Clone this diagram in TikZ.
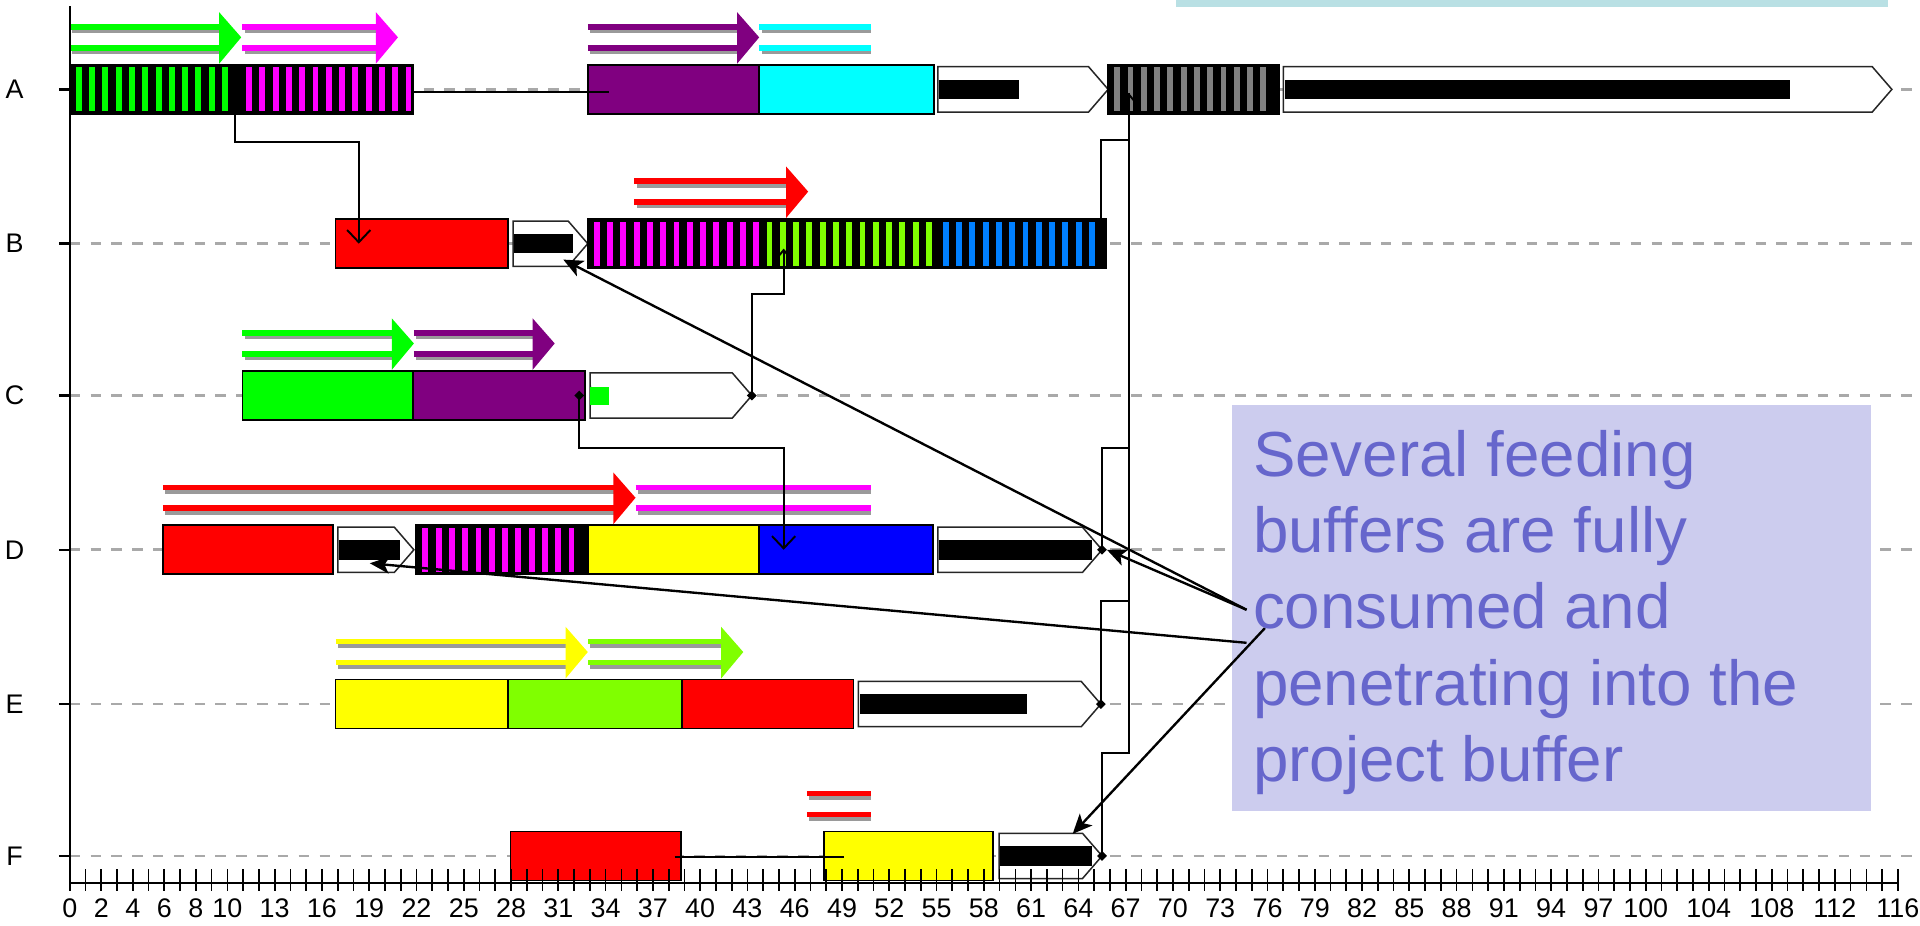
\documentclass[tikz,border=0pt]{standalone}
\usepackage{fontspec}
\setmainfont{Liberation Sans}
\usetikzlibrary{arrows.meta}

\definecolor{cGreen}{HTML}{00FF00}
\definecolor{cMagenta}{HTML}{FF00FF}
\definecolor{cPurple}{HTML}{800080}
\definecolor{cCyan}{HTML}{00FFFF}
\definecolor{cRed}{HTML}{FF0000}
\definecolor{cYellow}{HTML}{FFFF00}
\definecolor{cBlue}{HTML}{0000FF}
\definecolor{cLime}{HTML}{80FF00}
\definecolor{cSky}{HTML}{0080FF}
\definecolor{cGrey}{HTML}{808080}
\definecolor{gridgrey}{HTML}{A9A9A9}
\definecolor{shadowgrey}{HTML}{9A9A9A}
\definecolor{noteFill}{HTML}{CCCCEE}
\definecolor{noteText}{HTML}{6666CC}
\definecolor{tealFill}{HTML}{B9E0E4}

\tikzset{
  taskbox/.style={draw=black, line width=0.8pt, rectangle, inner sep=0pt, outer sep=0pt, minimum height=0.8cm},
  bufline/.style={draw=black!85, line width=0.7pt, fill=white},
  link/.style={draw=black, line width=0.9pt},
  openhead/.style={-{Straight Barb[length=0.2cm,width=0.38cm,line width=0.9pt]}},
  smallhead/.style={-{Straight Barb[length=0.12cm,width=0.2cm]}},
  callout/.style={draw=black, line width=1.1pt, -{Stealth[length=0.32cm,width=0.28cm,inset=0.08cm]}},
  rowline/.style={draw=gridgrey, line width=0.045cm, dash pattern=on 0.17cm off 0.17cm},
  axisline/.style={draw=black, line width=0.04cm},
  tickline/.style={draw=black, line width=0.8pt},
  ticklabel/.style={font=\fontsize{12.5pt}{12.5pt}\selectfont, inner sep=0pt},
  rowlabel/.style={font=\fontsize{12.5pt}{12.5pt}\selectfont, inner sep=0pt},
  notebox/.style={fill=noteFill, inner sep=0pt, minimum width=10.44cm, minimum height=6.64cm, anchor=north west},
  notetext/.style={text=noteText, font=\fontsize{29.6pt}{35pt}\selectfont, inner sep=0pt, anchor=base west},
}

% plain task bar: name, left, right, row, fill
\newcommand{\tsk}[5]{%
  \node[taskbox, fill=#5, minimum width={(#3-#2)*0.02cm}] (#1) at ({(#2+#3)/2},#4) {};}

% hatched task bar: name, left, right, row, stripe colour
\newcommand{\stsk}[5]{%
  \node[taskbox, fill=black, minimum width={(#3-#2)*0.02cm}] (#1) at ({(#2+#3)/2},#4) {};
  \pgfmathtruncatemacro{\nstripes}{(#3-#2-10.5)/10.85}
  \foreach \k in {0,...,\nstripes}{
    \fill[#5] ({#2+5+\k*10.85},{#4-18}) rectangle ++(4.8,36);
  }}

% buffer: name (tip), left, tip, row, end of consumed part
\newcommand{\buf}[5]{%
  \draw[bufline] (#2,{#4-18.5}) -- ({#3-16},{#4-18.5}) -- (#3,#4) -- ({#3-16},{#4+18.5}) -- (#2,{#4+18.5}) -- cycle;
  \coordinate (#1) at (#3,#4);
  \fill[black] ({#2+1},{#4-8}) rectangle (#5,{#4+8});}

% double arrow above a row: left, tip, row, colour
\newcommand{\dblarrow}[4]{%
  \foreach \off in {-51,-34}{
    \draw[shadowgrey, line width=0.09cm] ({#1+2},{#3+(\off)+3}) -- ({#2-17},{#3+(\off)+3});
    \draw[#4, line width=0.09cm] (#1,{#3+(\off)}) -- ({#2-16},{#3+(\off)});
  }
  \fill[#4] ({#2-18},{#3-63}) -- (#2,{#3-42.5}) -- ({#2-18},{#3-21}) -- cycle;}

% double lines without head: left, right, row, colour
\newcommand{\dbllines}[4]{%
  \foreach \off in {-51,-34}{
    \draw[shadowgrey, line width=0.09cm] ({#1+2},{#3+(\off)+3}) -- (#2,{#3+(\off)+3});
    \draw[#4, line width=0.09cm] (#1,{#3+(\off)}) -- (#2,{#3+(\off)});
  }}

% small diamond marking a link end
\newcommand{\knot}[1]{\fill[black] (#1) ++(0,-4) -- ++(4,4) -- ++(-4,4) -- ++(-4,-4) -- cycle;}

\begin{document}
\begin{tikzpicture}[x=0.02cm, y=-0.02cm]
\useasboundingbox (0,0) rectangle (1568,756);

% row guides, row ticks and labels
\foreach \r/\yy in {A/73,B/199,C/323,D/449,E/575,F/699} {
  \draw[rowline] (57,\yy) -- (1568,\yy);
  \draw[axisline] (48,\yy) -- (57,\yy);
  \node[rowlabel] (lab\r) at (12,\yy) {\r};
}

% row A
\stsk{A1}{57}{196}{73}{cGreen}
\stsk{A2}{196}{337}{73}{cMagenta}
\tsk{A3}{480}{620}{73}{cPurple}
\tsk{A4}{620}{763}{73}{cCyan}
\buf{bA1}{766}{905}{73}{832}
\stsk{A5}{905}{1045}{73}{cGrey}
\buf{bA2}{1048}{1545}{73}{1462}

% row B
\tsk{B1}{274}{415}{199}{cRed}
\buf{bB}{419}{480}{199}{468}
\stsk{B2}{480}{621}{199}{cMagenta}
\stsk{B3}{621}{765}{199}{cLime}
\stsk{B4}{765}{903}{199}{cSky}

% row C
\tsk{C1}{198}{337}{323}{cGreen}
\tsk{C2}{337}{478}{323}{cPurple}
\buf{bC}{482}{614}{323}{483}
\fill[cGreen] (482,316) rectangle (497,331);

% row D
\tsk{D1}{133}{272}{449}{cRed}
\buf{bD1}{276}{338}{449}{327}
\stsk{D2}{340}{480}{449}{cMagenta}
\tsk{D3}{480}{620}{449}{cYellow}
\tsk{D4}{620}{762}{449}{cBlue}
\buf{bD2}{766}{900}{449}{892}

% row E
\tsk{E1}{274}{415}{575}{cYellow}
\tsk{E2}{415}{557}{575}{cLime}
\tsk{E3}{557}{697}{575}{cRed}
\buf{bE}{701}{899}{575}{839}

% row F
\tsk{F1}{417}{556}{699}{cRed}
\tsk{F2}{673}{811}{699}{cYellow}
\buf{bF}{816}{900}{699}{892}

% progress arrows
\dblarrow{57}{197}{73}{cGreen}
\dblarrow{198}{325}{73}{cMagenta}
\dblarrow{480}{620}{73}{cPurple}
\dbllines{620}{711}{73}{cCyan}
\dblarrow{518}{660}{199}{cRed}
\dblarrow{198}{338}{323}{cGreen}
\dblarrow{338}{453}{323}{cPurple}
\dblarrow{133}{519}{449}{cRed}
\dbllines{519}{711}{449}{cMagenta}
\dblarrow{274}{480}{575}{cYellow}
\dblarrow{480}{607}{575}{cLime}
\dbllines{659}{711}{699}{cRed}

% dependency links
\draw[link, openhead] ([xshift=-0.08cm,yshift=-0.06cm]A1.east) -- ++(0,40) -| ([xshift=0.38cm]B1.west);
\draw[link] ([yshift=-0.04cm]A2.east) -- ([xshift=0.34cm,yshift=-0.04cm]A3.west);
\draw[link, openhead] ([xshift=-0.1cm]C2.east) -- ++(0,43) -| ([xshift=0.4cm]D4.west);
\draw[link, smallhead] (bC) -- ++(0,-83) -| ([xshift=0.38cm,yshift=-0.08cm]B3.west);
\draw[link] ([yshift=-0.02cm,xshift=-0.1cm]F1.east) -- ([xshift=0.32cm,yshift=-0.02cm]F2.west);

\coordinate (trunk) at ([xshift=0.34cm,yshift=-0.06cm]A5.west);
\draw[link] ([xshift=-0.08cm]B4.east) -- ++(0,-85) -| (trunk);
\draw[link] (bD2) -- ++(0,-83) -| (trunk);
\draw[link] (bE) -- ++(0,-84) -| (trunk);
\draw[link, smallhead] (bF) -- ++(0,-84) -| (trunk);

\knot{[xshift=-0.1cm]C2.east}
\knot{bC}
\knot{[xshift=-0.08cm]B4.east}
\knot{bD2}
\knot{bE}
\knot{bF}

% time axis
\draw[axisline] (57,5) -- (57,721) -- (1550,721);
\foreach \t in {0,...,116}
  \draw[tickline] ({57+12.87*\t},710) -- ({57+12.87*\t},728);
\foreach \t in {0,2,4,6,8,10,13,16,19,22,25,28,31,34,37,40,43,46,49,52,55,58,61,64,67,70,73,76,79,82,85,88,91,94,97,100,104,108,112,116}
  \node[ticklabel] (t\t) at ({57+12.87*\t},742) {\t};

% note strip at the top
\fill[tealFill] (960,0) rectangle (1542,5.5);

% callout
\node[notebox] (note) at (1006,330) {};
\coordinate (n1) at ([xshift=0.24cm,yshift=-3.36cm]note.north west);
\coordinate (n2) at ([xshift=0.24cm,yshift=-3.9cm]note.north west);
\coordinate (n3) at ([xshift=0.54cm,yshift=-3.66cm]note.north west);
\draw[callout] (n1) -- ([xshift=-0.4cm,yshift=-0.26cm]bB);
\draw[callout] (n1) -- ([xshift=0.08cm]bD2);
\draw[callout] (n2) -- ([xshift=-0.72cm,yshift=-0.22cm]bD1);
\draw[callout] (n3) -- ([xshift=-0.48cm,yshift=0.36cm]bF);
\node[notetext] (l1) at (1023,389) {Several feeding};
\node[notetext] (l2) at (1023,451) {buffers are fully};
\node[notetext] (l3) at (1023,513) {consumed and};
\node[notetext] (l4) at (1023,576) {penetrating into the};
\node[notetext] (l5) at (1023,638) {project buffer};
\end{tikzpicture}
\end{document}
